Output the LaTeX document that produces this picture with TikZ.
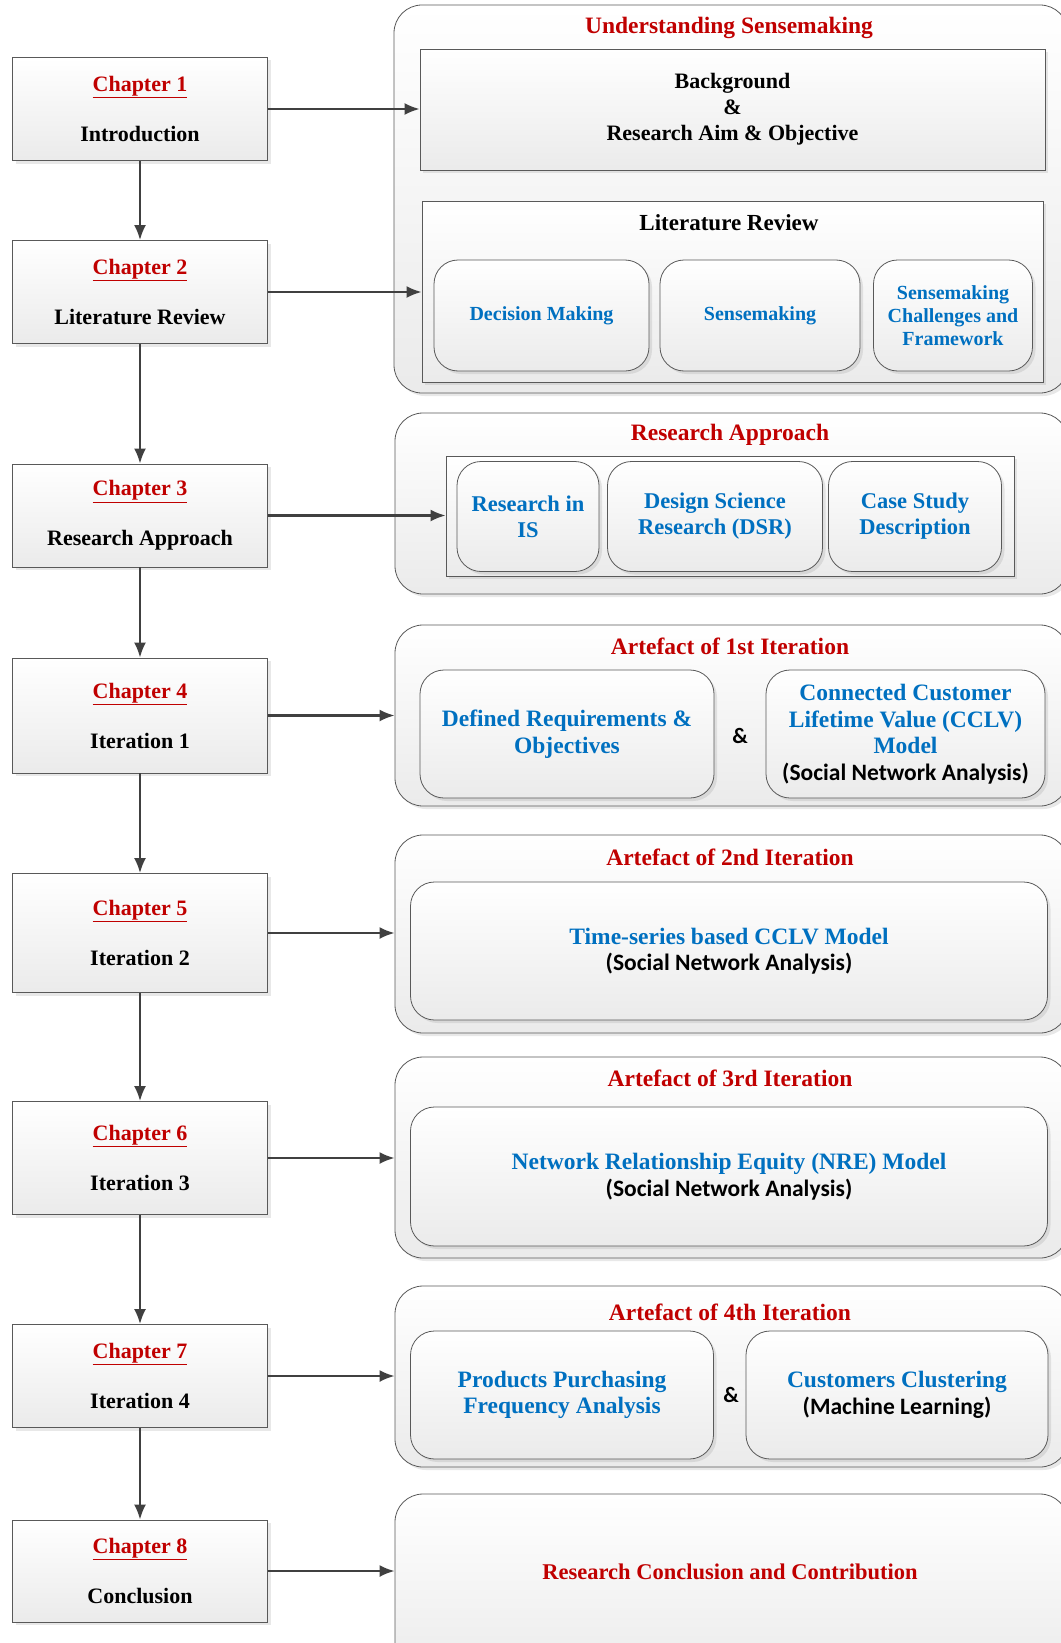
\documentclass[tikz,border=0pt]{standalone}
\usepackage{fontspec}
\setmainfont{Liberation Serif}
\newfontfamily\calib{Carlito}
\usetikzlibrary{arrows.meta,shadows}
\definecolor{chapred}{HTML}{C00000}
\definecolor{itemblue}{HTML}{0070C0}
\definecolor{edgegray}{HTML}{595959}
\definecolor{arrowgray}{HTML}{404040}
\newcommand{\chaplbl}[1]{\textcolor{chapred}{\underline{#1}}}
\newcommand{\snatxt}[1]{{\calib\bfseries\color{black}#1}}

\tikzset{
  boxbase/.style={draw=edgegray,line width=0.8pt,top color=white,bottom color=black!8,
    drop shadow={shadow xshift=3pt,shadow yshift=-3pt,opacity=0.18}},
  chapbox/.style={boxbase,minimum width=255pt,align=center,font=\fontsize{22}{26}\selectfont\bfseries},
  grpbox/.style={boxbase,rounded corners=28pt},
  framebox/.style={boxbase},
  subbox/.style={boxbase,rounded corners=24pt,align=center,text=itemblue},
  grptitle/.style={text=chapred,font=\fontsize{23.5}{27}\selectfont\bfseries},
  flow/.style={draw=arrowgray,line width=2.2pt,-{Latex[length=15pt,width=12pt]}}
}

\begin{document}
\begin{tikzpicture}[x=1pt,y=-1pt]
\useasboundingbox (0,0) rectangle (1060,1643);

% right hand groups
\node[grpbox,minimum width=674pt,minimum height=388pt] (grp1) at (731,199) {};
\node[grpbox,minimum width=673pt,minimum height=181pt] (grp2) at (731.5,503.5) {};
\node[grpbox,minimum width=673pt,minimum height=181pt] (grp3) at (731.5,715.5) {};
\node[grpbox,minimum width=673pt,minimum height=198pt] (grp4) at (731.5,934) {};
\node[grpbox,minimum width=673pt,minimum height=201pt] (grp5) at (731.5,1157.5) {};
\node[grpbox,minimum width=673pt,minimum height=181pt] (grp6) at (731.5,1376.5) {};
\node[grpbox,minimum width=673pt,minimum height=186pt] (grp7) at (731.5,1587) {};

\node[grptitle] (t1) at (729,28) {Understanding Sensemaking};
\node[grptitle] (t2) at (730,435) {Research Approach};
\node[grptitle] (t3) at (730,646) {Artefact of 1st Iteration};
\node[grptitle] (t4) at (730,857) {Artefact of 2nd Iteration};
\node[grptitle] (t5) at (730,1078) {Artefact of 3rd Iteration};
\node[grptitle] (t6) at (730,1312) {Artefact of 4th Iteration};
\node[grptitle,font=\fontsize{22.5}{26}\selectfont\bfseries] (t7) at (730,1572) {Research Conclusion and Contribution};

% group 1
\node[framebox,minimum width=625pt,minimum height=121pt,align=center,
  font=\fontsize{22}{26}\selectfont\bfseries] (bg) at (732.5,109.5)
  {Background\\\&\\Research Aim \& Objective};
\node[framebox,minimum width=621pt,minimum height=181pt] (lit) at (732.5,291.5) {};
\node[font=\fontsize{23}{26}\selectfont\bfseries] (littitle) at (729,223) {Literature Review};
\begin{scope}[every node/.append style={font=\fontsize{20}{23}\selectfont\bfseries}]
\node[subbox,minimum width=215pt,minimum height=111pt] (dm) at (541.5,315.5) {Decision Making};
\node[subbox,minimum width=200pt,minimum height=111pt] (sm) at (760,315.5) {Sensemaking};
\node[subbox,minimum width=159pt,minimum height=111pt] (smc) at (953,315.5) {Sensemaking\\Challenges and\\Framework};
\end{scope}

% group 2
\node[framebox,minimum width=568pt,minimum height=120pt] (appr) at (730,516) {};
\begin{scope}[every node/.append style={font=\fontsize{22.5}{26}\selectfont\bfseries}]
\node[subbox,minimum width=142pt,minimum height=110pt] (ris) at (528,516.5) {Research in\\IS};
\node[subbox,minimum width=215pt,minimum height=110pt] (dsr) at (715,516.5) {Design Science\\Research (DSR)};
\node[subbox,minimum width=173pt,minimum height=110pt] (csd) at (915,516.5) {Case Study\\Description};
\end{scope}

% groups 3 to 6
\begin{scope}[every node/.append style={font=\fontsize{23.5}{26.5}\selectfont\bfseries}]
\node[subbox,minimum width=294pt,minimum height=128pt] (req) at (567,734) {Defined Requirements \&\\Objectives};
\node[subbox,minimum width=279pt,minimum height=128pt] (cclv) at (905.5,734)
  {Connected Customer\\Lifetime Value (CCLV)\\Model\\\snatxt{(Social Network Analysis)}};
\node[subbox,minimum width=637pt,minimum height=138pt] (tscclv) at (729,951)
  {Time-series based CCLV Model\\\snatxt{(Social Network Analysis)}};
\node[subbox,minimum width=637pt,minimum height=139pt] (nre) at (729,1176.5)
  {Network Relationship Equity (NRE) Model\\\snatxt{(Social Network Analysis)}};
\node[subbox,minimum width=303pt,minimum height=128pt] (ppf) at (562,1395) {Products Purchasing\\Frequency Analysis};
\node[subbox,minimum width=302pt,minimum height=128pt] (cc) at (897,1395)
  {Customers Clustering\\\snatxt{(Machine Learning)}};
\end{scope}
\node[font=\fontsize{22}{26}\calib\bfseries] (and1) at (740,736) {\&};
\node[font=\fontsize{22}{26}\calib\bfseries] (and2) at (731,1395) {\&};

% chapters
\node[chapbox,minimum height=103pt] (ch1) at (140,109) {\chaplbl{Chapter 1}\\[24pt]Introduction};
\node[chapbox,minimum height=103pt] (ch2) at (140,292) {\chaplbl{Chapter 2}\\[24pt]Literature Review};
\node[chapbox,minimum height=103pt] (ch3) at (140,515.5) {\chaplbl{Chapter 3}\\[24pt]Research Approach};
\node[chapbox,minimum height=115pt] (ch4) at (140,715.5) {\chaplbl{Chapter 4}\\[24pt]Iteration 1};
\node[chapbox,minimum height=119pt] (ch5) at (140,933) {\chaplbl{Chapter 5}\\[24pt]Iteration 2};
\node[chapbox,minimum height=113pt] (ch6) at (140,1158) {\chaplbl{Chapter 6}\\[24pt]Iteration 3};
\node[chapbox,minimum height=103pt] (ch7) at (140,1376) {\chaplbl{Chapter 7}\\[24pt]Iteration 4};
\node[chapbox,minimum height=102pt] (ch8) at (140,1571) {\chaplbl{Chapter 8}\\[24pt]Conclusion};

% arrows
\foreach \a/\b in {ch1/ch2,ch2/ch3,ch3/ch4,ch4/ch5,ch5/ch6,ch6/ch7,ch7/ch8}
  \draw[flow] (\a) -- (\b);
\foreach \a/\b in {ch1/bg,ch2/lit,ch3/appr,ch4/grp3,ch5/grp4,ch6/grp5,ch7/grp6,ch8/grp7}
  \draw[flow] (\a.east) -- (\a.east -| \b.west);
\end{tikzpicture}
\end{document}
